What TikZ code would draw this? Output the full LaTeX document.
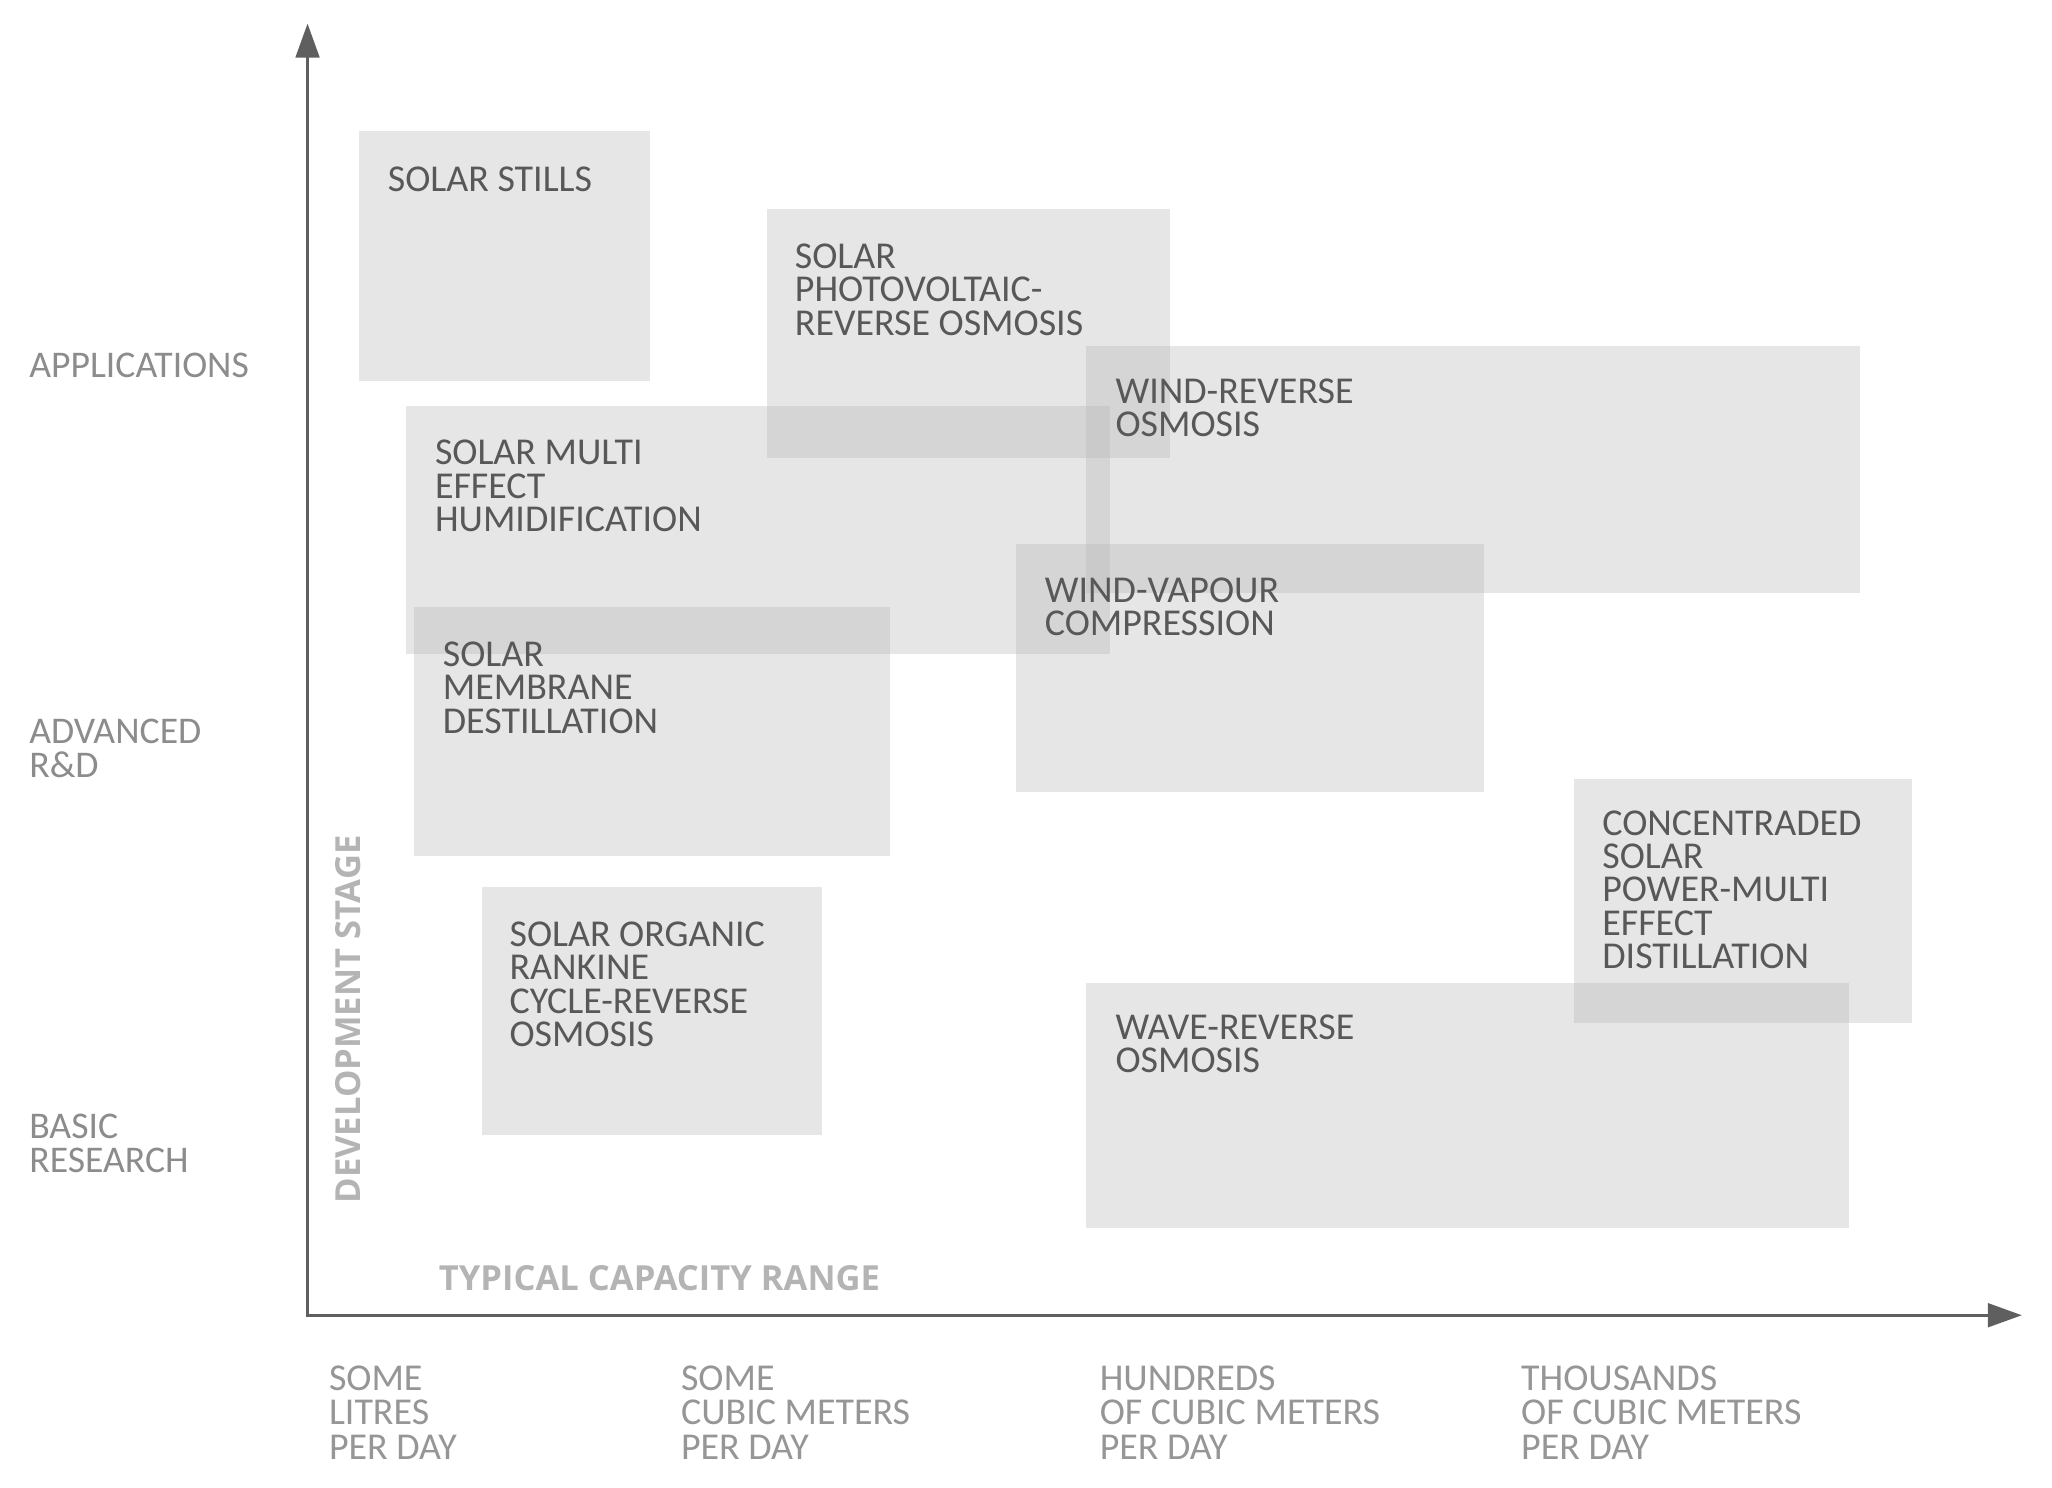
\documentclass[tikz,border=0pt]{standalone}
\usepackage{fontspec}
\setmainfont{Carlito}
\newfontfamily\axisfont{Open Sans}
\usetikzlibrary{arrows.meta}
\definecolor{boxgray}{RGB}{180,180,180}
\definecolor{boxtext}{RGB}{88,88,88}
\definecolor{stagetext}{RGB}{140,140,140}
\definecolor{captext}{RGB}{150,150,150}
\definecolor{titletext}{RGB}{180,180,180}
\definecolor{axisgray}{RGB}{95,95,95}
\begin{document}
\begin{tikzpicture}[x=0.5pt,y=-0.5pt,
  region/.style={fill=boxgray, fill opacity=0.333},
  lbl/.style={anchor=north west, inner sep=0pt, align=left, text=boxtext, font=\fontsize{14.5}{12.75}\selectfont},
  stagelbl/.style={anchor=north west, inner sep=0pt, align=left, text=stagetext, font=\fontsize{14.4}{13}\selectfont},
  caplbl/.style={anchor=north west, inner sep=0pt, align=left, text=captext, font=\fontsize{14.5}{13.25}\selectfont},
  axtitle/.style={inner sep=0pt, text=titletext, font=\axisfont\bfseries\fontsize{13.2}{14}\selectfont},
  axisline/.style={draw=axisgray, line width=1.25pt, line join=miter,
    {Triangle[length=13pt,width=9pt]}-{Triangle[length=13pt,width=9pt]}}]
\useasboundingbox (0,0) rectangle (1568,1137);
% regions
\fill[region] (274,100) rectangle (497,291);
\fill[region] (586,160) rectangle (894,350);
\fill[region] (830,264) rectangle (1421,453);
\fill[region] (310,310) rectangle (848,500);
\fill[region] (776,416) rectangle (1134,605);
\fill[region] (316,464) rectangle (680,654);
\fill[region] (368,678) rectangle (628,867);
\fill[region] (1203,595) rectangle (1461,782);
\fill[region] (830,751) rectangle (1413,938);
% region labels
\node[lbl] (t1) at (296,127) {SOLAR STILLS};
\node[lbl] (t2) at (607,186) {SOLAR\\PHOTOVOLTAIC-\\REVERSE OSMOSIS};
\node[lbl] (t3) at (852,289) {WIND-REVERSE\\OSMOSIS};
\node[lbl] (t4) at (332,336) {SOLAR MULTI\\EFFECT\\HUMIDIFICATION};
\node[lbl] (t5) at (798,441) {WIND-VAPOUR\\COMPRESSION};
\node[lbl] (t6) at (338,490) {SOLAR\\MEMBRANE\\DESTILLATION};
\node[lbl] (t7) at (389,704) {SOLAR ORGANIC\\RANKINE\\CYCLE-REVERSE\\OSMOSIS};
\node[lbl] (t8) at (1224,619) {CONCENTRADED\\SOLAR\\POWER-MULTI\\EFFECT\\DISTILLATION};
\node[lbl] (t9) at (852,775) {WAVE-REVERSE\\OSMOSIS};
% axes
\coordinate (O) at (235,1005);
\coordinate (ytip) at (235,18);
\coordinate (xtip) at (1545,1005);
\draw[axisline] (ytip) -- (O) -- (xtip);
% stage labels
\node[stagelbl] (s1) at (22,269) {APPLICATIONS};
\node[stagelbl] (s2) at (22,549) {ADVANCED\\R\&D};
\node[stagelbl] (s3) at (22,851) {BASIC\\RESEARCH};
% capacity labels
\node[caplbl] (c1) at (251,1043) {SOME\\LITRES\\PER DAY};
\node[caplbl] (c2) at (520,1043) {SOME\\CUBIC METERS\\PER DAY};
\node[caplbl] (c3) at (840,1043) {HUNDREDS\\OF CUBIC METERS\\PER DAY};
\node[caplbl] (c4) at (1162,1043) {THOUSANDS\\OF CUBIC METERS\\PER DAY};
% axis titles
\node[axtitle, anchor=west] (xt) at (335,977) {TYPICAL CAPACITY RANGE};
\node[axtitle, anchor=west, rotate=90] (yt) at (266,920) {DEVELOPMENT STAGE};
\end{tikzpicture}
\end{document}
